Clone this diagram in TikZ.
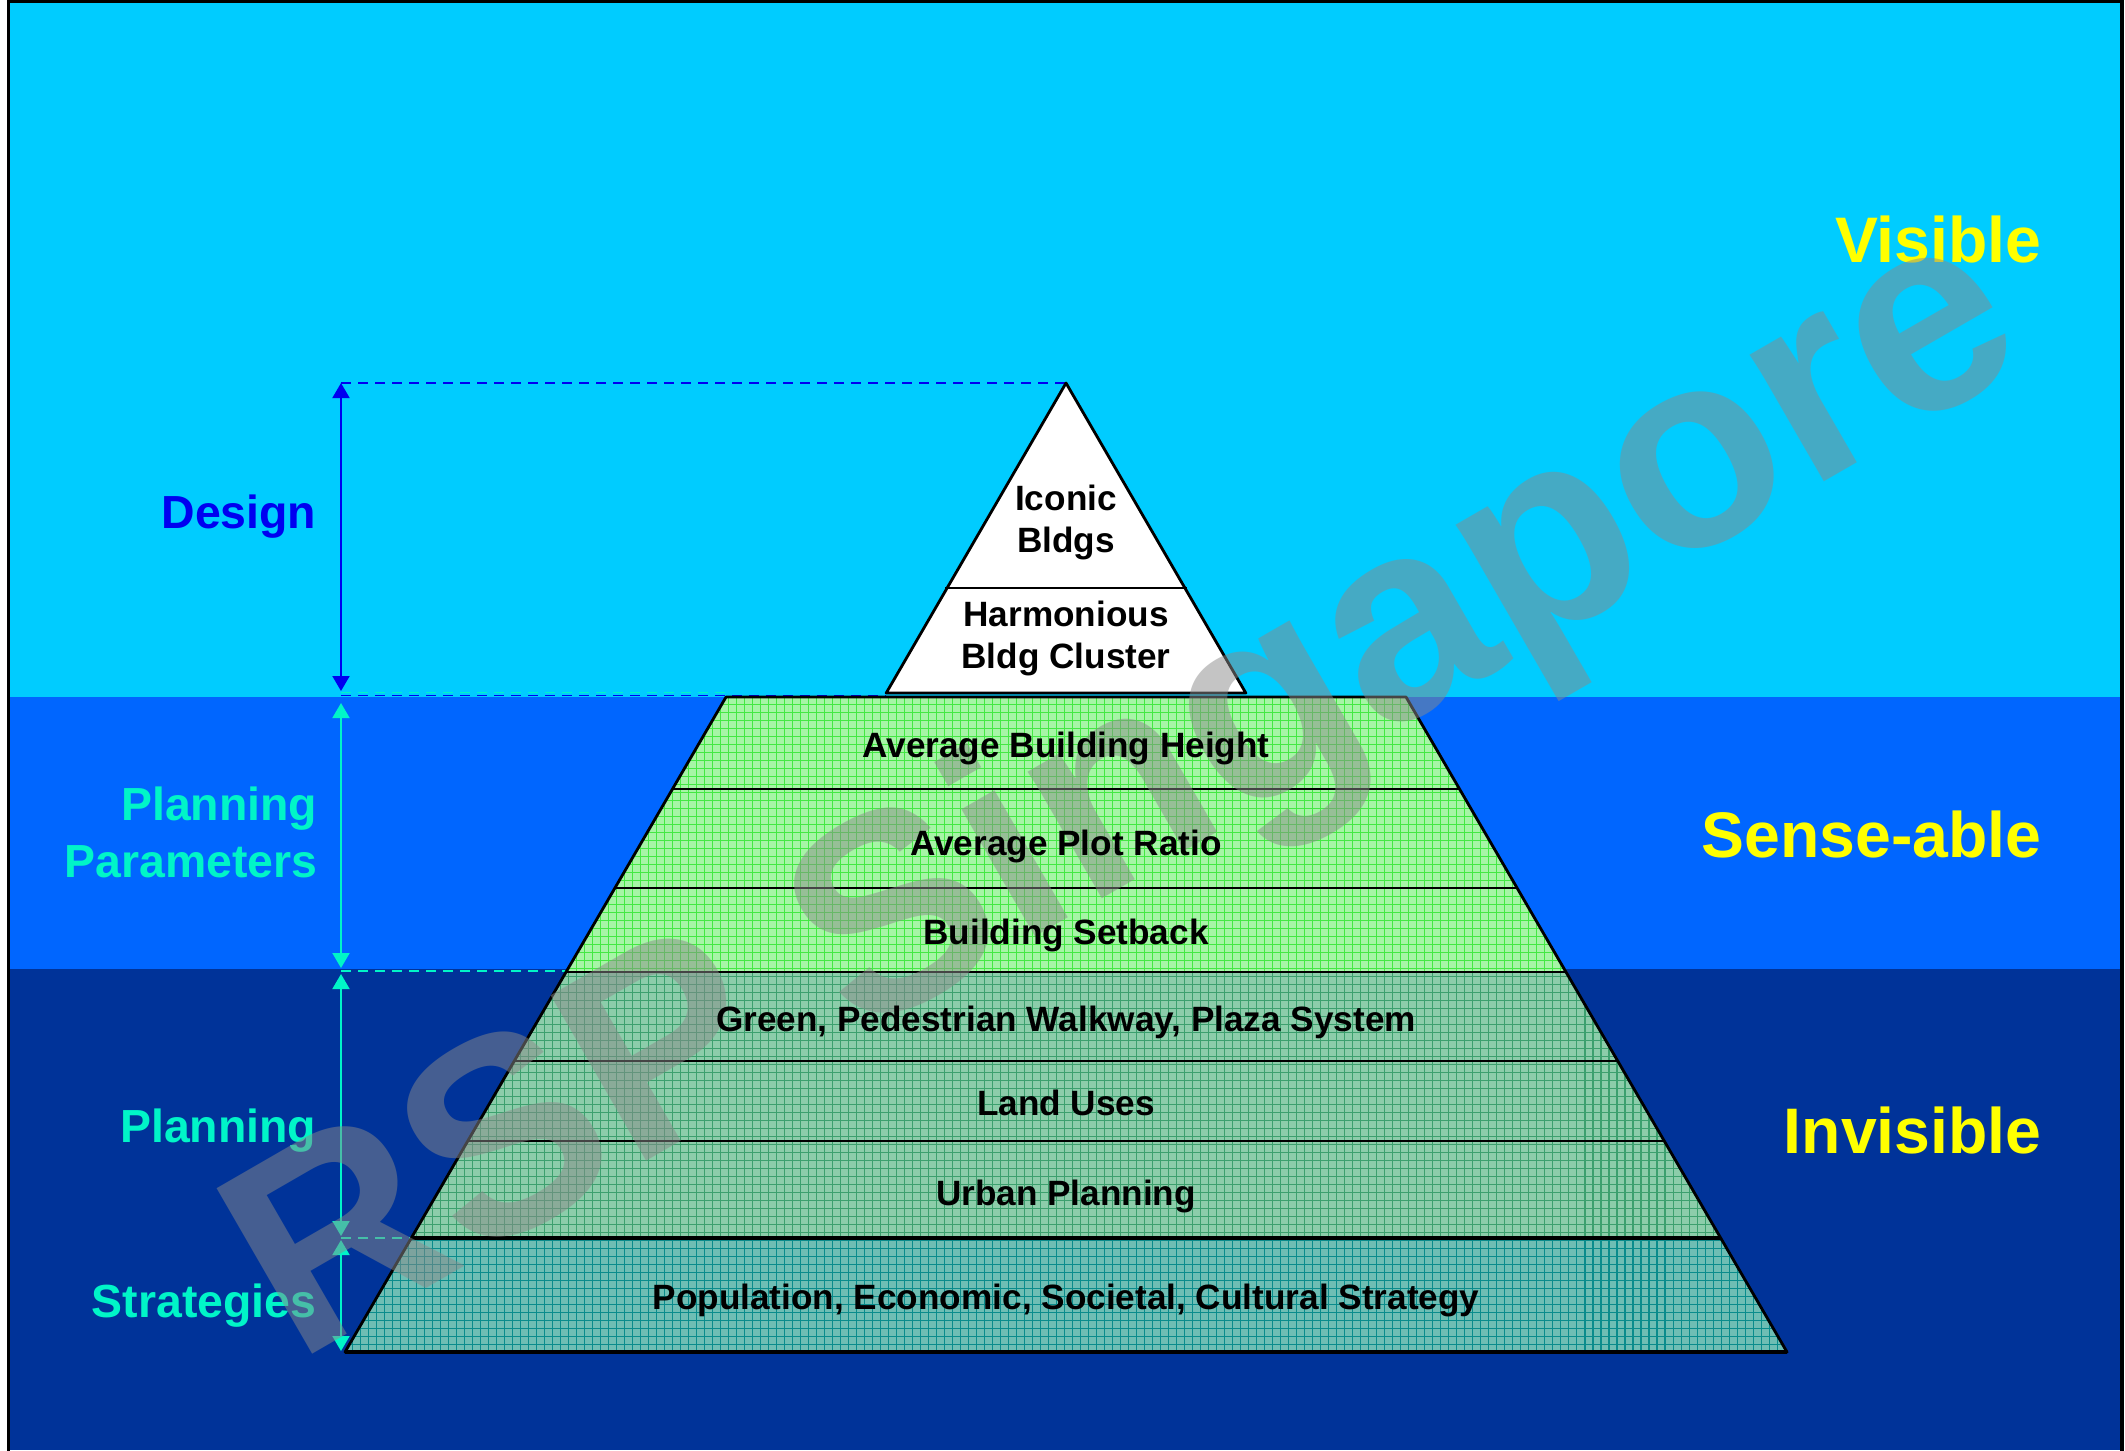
\documentclass[tikz,border=0pt]{standalone}
\usepackage{fontspec}
\setmainfont{Liberation Sans}
\usetikzlibrary{arrows.meta}
\definecolor{skyc}{HTML}{00CCFF}
\definecolor{midb}{HTML}{0066FF}
\definecolor{navyb}{HTML}{003399}
\definecolor{labcyan}{HTML}{00F5C8}
\definecolor{labblue}{HTML}{0000F0}
\definecolor{labyellow}{HTML}{FFFF00}
\definecolor{gfill}{HTML}{A6F5A6}
\definecolor{ggrid}{HTML}{44E844}
\definecolor{mfill}{HTML}{8CCDAA}
\definecolor{mgrid}{HTML}{3CA06E}
\definecolor{bfill}{HTML}{6EBEB4}
\definecolor{bgrid}{HTML}{0A8C8C}
\definecolor{wmgray}{HTML}{8A8A8A}
\begin{document}
\begin{tikzpicture}[x=0.01cm,y=-0.01cm,
  layertxt/.style={font=\fontsize{10}{11.95}\selectfont\bfseries, text=black, inner sep=0pt, align=center},
  leftlab/.style={font=\fontsize{13.2}{16.2}\selectfont\bfseries, text=labcyan, inner sep=0pt, align=right},
  rightlab/.style={font=\fontsize{18.3}{20}\selectfont\bfseries, text=labyellow, inner sep=0pt, anchor=base east},
  dimarrow/.style={{Triangle[length=0.15cm,width=0.17cm]}-{Triangle[length=0.15cm,width=0.17cm]}, line width=0.55pt},
  dashln/.style={dash pattern=on 0.1cm off 0.07cm, line width=0.55pt},
  gridln/.style={line width=0.3pt, xstep=0.08cm, ystep=0.08cm},
  outline/.style={draw=black, line width=0.8pt, line join=round}
]
\useasboundingbox (0,0) rectangle (2125,1450);
% background bands
\fill[white] (0,0) rectangle (2125,1450);
\fill[skyc] (8,0) rectangle (2122,697);
\fill[midb] (8,697) rectangle (2122,969);
\fill[navyb] (8,969) rectangle (2122,1450);
\draw[black, line width=0.9pt] (8.5,1) rectangle (2122,1470);

% coordinates
\coordinate (apex) at (1066,383);
\coordinate (triL) at (886,695.5);
\coordinate (trapL) at (726,692.5);
\coordinate (lev3) at (566,971);
\coordinate (lev6) at (411,1238);
\coordinate (dTop) at (341,383);
\coordinate (dBot) at (341,691);
\coordinate (dL1) at (341,695.5);
\coordinate (dL2) at (341,692.5);
\coordinate (pTop) at (341,703);
\coordinate (pBot) at (341,968);
\coordinate (pl3) at (341,971);
\coordinate (qTop) at (341,974);
\coordinate (qBot) at (341,1236);
\coordinate (pl6) at (341,1238);
\coordinate (sTop) at (341,1240);
\coordinate (sBot) at (341,1351);

% dashed guide lines
\draw[dashln, labblue] (dTop) -- (apex);
\draw[dashln, labblue] (dL1) -- (triL);
\draw[dashln, labcyan] (dL2) -- (trapL);
\draw[dashln, labcyan] (pl3) -- (lev3);
\draw[dashln, labcyan] (pl6) -- (lev6);

% dimension arrows
\draw[dimarrow, labblue] (dTop) -- (dBot);
\draw[dimarrow, labcyan] (pTop) -- (pBot);
\draw[dimarrow, labcyan] (qTop) -- (qBot);
\draw[dimarrow, labcyan] (sTop) -- (sBot);

% pyramid fills
\begin{scope}
  \clip (726,697) -- (1406,697) -- (1566,972) -- (566,972) -- cycle;
  \fill[gfill] (340,690) rectangle (1790,980);
  \draw[gridln, ggrid] (340,690) grid (1790,980);
\end{scope}
\begin{scope}
  \clip (566,972) -- (1566,972) -- (1720.7,1238) -- (411.3,1238) -- cycle;
  \fill[mfill] (340,965) rectangle (1790,1245);
  \draw[gridln, mgrid] (340,965) grid (1790,1245);
\end{scope}
\begin{scope}
  \clip (411.3,1238) -- (1720.7,1238) -- (1787,1352) -- (345,1352) -- cycle;
  \fill[bfill] (340,1230) rectangle (1790,1360);
  \draw[gridln, bgrid] (340,1230) grid (1790,1360);
\end{scope}
\fill[white] (apex) -- (1245.8,693) -- (886.2,693) -- cycle;

% pyramid outlines
\draw[outline] (apex) -- (1245.8,693) -- (886.2,693) -- cycle;
\draw[line width=0.7pt] (945,588) -- (1187,588);
\draw[line width=0.5pt] (672.5,789) -- (1459.5,789);
\draw[line width=0.5pt] (614.9,888) -- (1517.1,888);
\draw[line width=0.8pt] (566,972) -- (1566,972);
\draw[line width=0.5pt] (514.3,1061) -- (1617.7,1061);
\draw[line width=0.5pt] (467.7,1141) -- (1664.3,1141);
\draw[line width=0.9pt] (411.3,1238) -- (1720.7,1238);
\draw[outline] (726,697) -- (1406,697) -- (1787,1352) -- (345,1352) -- cycle;
\draw[line width=1.2pt] (345,1352) -- (1787,1352);

% left labels
\node[leftlab, text=labblue, anchor=base east] (design) at (317,528) {Design};
\node[leftlab, anchor=east] (planpar) at (318,832) {Planning\\Parameters};
\node[leftlab, anchor=base east] (plan) at (317,1142) {Planning};
\node[leftlab, anchor=base east] (strat) at (317,1317) {Strategies};

% right labels
\node[rightlab] (vis) at (2042,262) {Visible};
\node[rightlab] (sense) at (2042,857) {Sense-able};
\node[rightlab] (invis) at (2042,1153) {Invisible};

% watermark
\node[rotate=30, anchor=base west, inner sep=0pt, font=\fontsize{79}{82}\selectfont\bfseries, text=wmgray, text opacity=0.5] (wm) at (296,1364) {RSP Singapore};

% layer texts
\node[layertxt] (iconic) at (1066,522) {Iconic\\Bldgs};
\node[layertxt] (harm) at (1066,638.5) {Harmonious\\Bldg Cluster};
\node[layertxt, anchor=base] (abh) at (1066,757) {Average Building Height};
\node[layertxt, anchor=base] (apr) at (1066,855) {Average Plot Ratio};
\node[layertxt, anchor=base] (bsb) at (1066,944) {Building Setback};
\node[layertxt, anchor=base] (gpw) at (1066,1031) {Green, Pedestrian Walkway, Plaza System};
\node[layertxt, anchor=base] (lu) at (1066,1115) {Land Uses};
\node[layertxt, anchor=base] (up) at (1066,1205) {Urban Planning};
\node[layertxt, anchor=base] (pop) at (1066,1309) {Population, Economic, Societal, Cultural Strategy};
\end{tikzpicture}
\end{document}
